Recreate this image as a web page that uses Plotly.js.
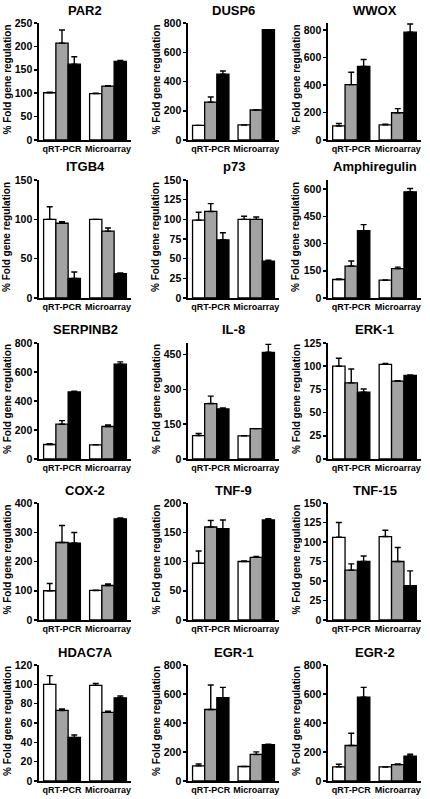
<!DOCTYPE html>
<html>
<head>
<meta charset="utf-8">
<script src="https://cdn.plot.ly/plotly-3.0.1.min.js"></script>
<style>
html,body{margin:0;padding:0;background:#fff;}
#chart{width:430px;height:799px;}
</style>
</head>
<body>
<div id="chart"></div>
<script>
// ---- data ----
const genes = ['PAR2','DUSP6','WWOX','ITGB4','p73','Amphiregulin','SERPINB2','IL-8','ERK-1','COX-2','TNF-9','TNF-15','HDAC7A','EGR-1','EGR-2'];
const methods = ['qRT-PCR','Microarray'];
// values per gene: [qRT-PCR, Microarray]
const whiteVals = [[101,99],[100,103],[102,110],[100,100],[99,100],[102,98],[100,98],[101,100],[100,102],[100,101],[97,100],[106,107],[100,99],[104,100],[98,97]];
const whiteErr  = [[1,1],[0,0],[18,5],[16,0],[10,4],[3,2],[5,0],[9,0],[8.5,1],[25,1],[21,1],[19,8],[9,2],[13,0],[18,0]];
const grayVals  = [[207,115],[259,205],[402,198],[95,85],[110,100],[176,162],[240,224],[239,131],[82,84],[265,118],[159,107],[64,75],[73,71],[493,183],[245,113]];
const grayErr   = [[28,1],[35,0],[90,30],[2,4],[10,3],[28,8],[25,10],[32,0],[15,0.5],[58,5],[11,1.5],[8,18],[1.5,1.3],[169,18],[84,5]];
const blackVals = [[162,168],[450,755],[535,783],[25,31],[74,47],[371,585],[462,654],[216,460],[72,90],[263,346],[156,171],[75,44],[45,86],[574,251],[578,172]];
const blackErr  = [[16,2],[22,0],[50,60],[8,1],[9,1],[33,18],[6,16],[4,34],[3.5,0.7],[36,3],[15,2],[7,19],[2.6,2],[72,2],[68,12]];
const yMax   = [250,800,850,150,150,650,800,500,125,400,200,150,120,800,800];
const yDtick = [50,200,200,50,25,150,200,150,25,100,50,25,20,200,200];
const yTitle = '% Fold gene regulation';

// ---- layout geometry (px) ----
const W = 430, H = 799;
const colX = [[39,131],[188,279],[328,421]];
const rowY = [[23,140],[180,298],[343,459],[503,620],[665,781]];
const FONT = 'Liberation Sans, Arial, sans-serif';

const series = [
  {vals: whiteVals, errs: whiteErr, color: '#ffffff'},
  {vals: grayVals,  errs: grayErr,  color: '#a3a3a3'},
  {vals: blackVals, errs: blackErr, color: '#000000'}
];

const traces = [];
const layout = {
  width: W, height: H,
  margin: {l:0, r:0, t:0, b:0},
  paper_bgcolor: '#fff', plot_bgcolor: '#fff',
  showlegend: false,
  barmode: 'group', bargap: 0.2, bargroupgap: 0,
  font: {family: FONT, color: '#000'},
  annotations: []
};

genes.forEach((g, i) => {
  const r = Math.floor(i / 3), c = i % 3;
  const n = i + 1;
  const xa = 'x' + (n === 1 ? '' : n), ya = 'y' + (n === 1 ? '' : n);
  const xk = 'xaxis' + (n === 1 ? '' : n), yk = 'yaxis' + (n === 1 ? '' : n);
  const [x0, x1] = colX[c];
  const [yt, yb] = rowY[r];

  series.forEach(s => {
    traces.push({
      type: 'bar', x: methods, y: s.vals[i], xaxis: xa, yaxis: ya,
      marker: {color: s.color, line: {color: '#000', width: 1.3}},
      error_y: {type: 'data', symmetric: false, array: s.errs[i], arrayminus: [0,0],
                color: '#000', thickness: 1.4, width: 3},
      hoverinfo: 'skip'
    });
  });

  layout[xk] = {
    domain: [x0 / W, x1 / W], anchor: ya,
    type: 'category', range: [-0.5, 1.5],
    showline: true, linecolor: '#000', linewidth: 1.6,
    ticks: '', showgrid: false, zeroline: false, fixedrange: true,
    tickfont: {family: FONT, size: 9, weight: 'bold', color: '#000'}
  };
  layout[yk] = {
    domain: [1 - yb / H, 1 - yt / H], anchor: xa,
    range: [0, yMax[i]], dtick: yDtick[i], tick0: 0,
    showline: true, linecolor: '#000', linewidth: 1.6,
    ticks: 'outside', ticklen: 3, tickwidth: 1.5, tickcolor: '#000',
    showgrid: false, zeroline: false, fixedrange: true,
    tickfont: {family: FONT, size: 10.5, weight: 'bold', color: '#000'}
  };

  // panel title
  layout.annotations.push({
    text: g, xref: 'paper', yref: 'paper',
    x: ((x0 + x1) / 2) / W, y: 1 - (yt - 13) / H,
    xanchor: 'center', yanchor: 'middle', showarrow: false,
    font: {family: FONT, size: 13, weight: 'bold', color: '#000'}
  });
  // y-axis title
  layout.annotations.push({
    text: yTitle, xref: 'paper', yref: 'paper',
    x: (x0 - 32) / W, y: 1 - ((yt + yb) / 2 - 2) / H,
    xanchor: 'center', yanchor: 'middle', showarrow: false, textangle: -90,
    font: {family: FONT, size: 10, weight: 'bold', color: '#000'}
  });
});

Plotly.newPlot('chart', traces, layout, {staticPlot: true, displayModeBar: false});
</script>
</body>
</html>
